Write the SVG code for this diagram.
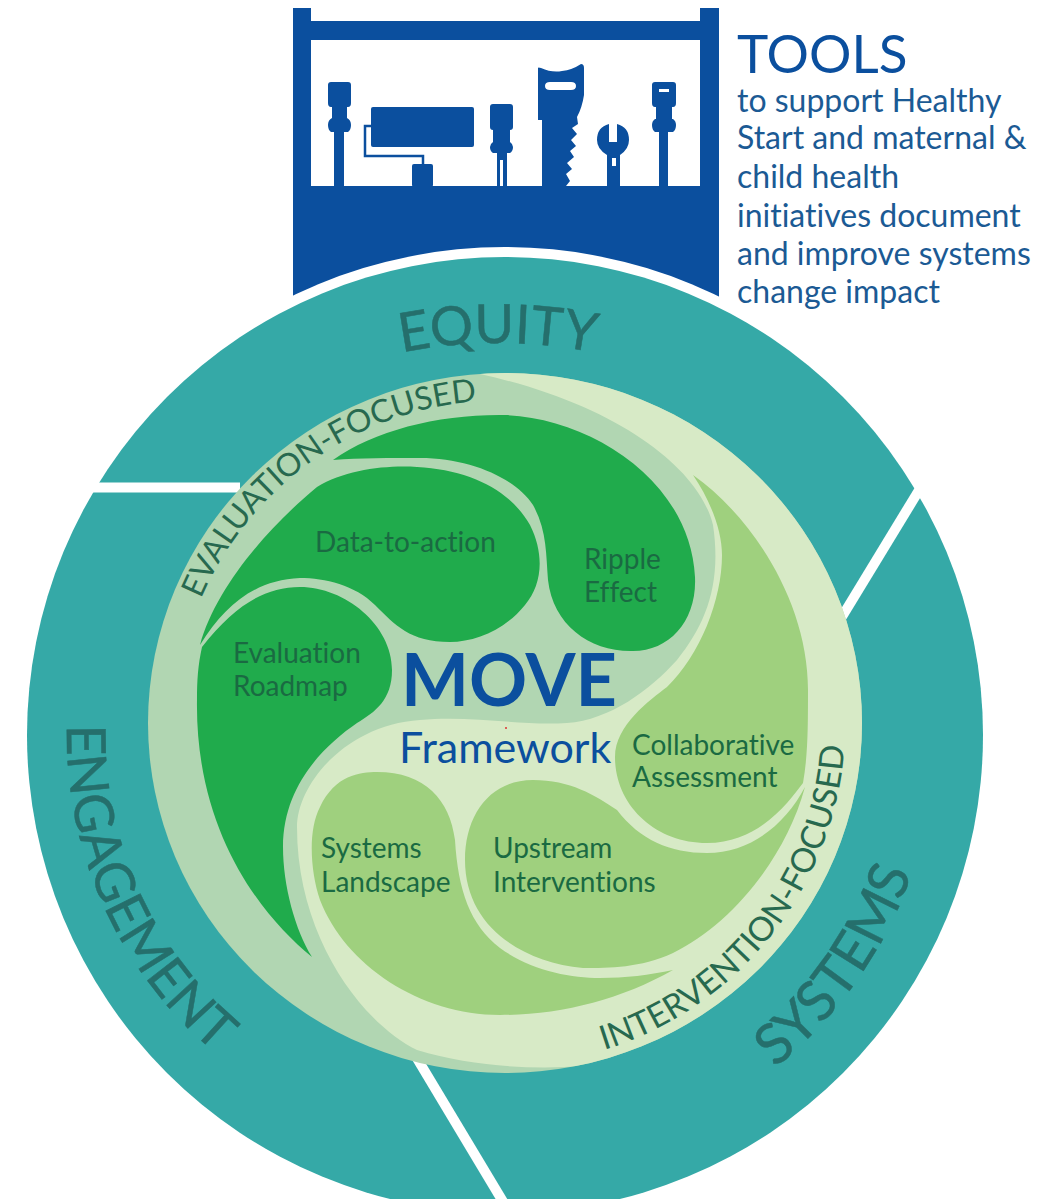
<svg xmlns="http://www.w3.org/2000/svg" width="1061" height="1199" viewBox="0 0 1061 1199">
<style>
text{font-family:"Lato","Open Sans","Liberation Sans",sans-serif;font-variant-ligatures:none}
.b{fill:#0b4f9e}
.w{fill:#fff}
.lab{font-size:28px;fill:#1a6a42}
.tool{font-size:32px;fill:#1b5a94}
.ring{font-size:54px;fill:#256f6c;stroke:#256f6c;stroke-width:.5}
.band{font-size:32px;fill:#27694f}
.cut{stroke:#fff;stroke-width:10;fill:none}
.dg{fill:#20ab4c}
.lg{fill:#9fd07e}
</style>
<defs>
<path id="pEq" d="M198,443 A500,500 0 0 1 798,443"/>
<path id="pEn" d="M67,725 A415,415 0 0 0 482,1150"/>
<path id="pSy" d="M775,1068 A430,430 0 0 0 935,735"/>
<path id="pEv" d="M201,599 A328,326 0 0 1 831,723"/>
<path id="pIn" d="M604,1050 A343,343 0 0 0 825,606"/>
<clipPath id="discClip"><ellipse cx="505" cy="723" rx="357" ry="350"/></clipPath>
</defs>
<rect width="1061" height="1199" fill="#fff"/>
<g id="toolbox">
<path class="b" d="M293,8 H311 V21 H700 V8 H719 V300 H293 Z"/>
<rect class="w" x="311" y="40" width="389" height="146"/>
<g id="tool-1"><path class="b" d="M334,186 V132 H331 Q328,130 328,125 Q328,120 332,118 V107 H331 Q328,107 328,103 V85 Q328,82 331,82 H348 Q351,82 351,85 V103 Q351,107 348,107 H347 V118 Q351,120 351,125 Q351,130 348,132 H344 V186 Z"/></g>
<g id="tool-roller">
<rect class="b" x="371" y="107" width="103" height="40" rx="2"/>
<path d="M371,126 H365 V156 H423 V165" fill="none" stroke="#0b4f9e" stroke-width="2.500"/>
<rect class="b" x="412" y="164" width="21" height="23" rx="2"/>
</g>
<g id="tool-2"><path class="b" d="M497,186 V153 H493 Q490,151 490,147 Q490,144 493,142 V130 H493 Q490,130 490,127 V107 Q490,104 493,104 H510 Q513,104 513,107 V127 Q513,130 510,130 H510 V142 Q513,144 513,147 Q513,151 510,153 H507 V186 H503 V160 H500 V186 Z"/></g>
<g id="tool-saw"><path class="b" d="M538,68 Q538,67 541,68 Q552,73 562,71 Q572,70 581,64 Q584,64 584,68 V95 Q582,108 577,117 L578,124 L572,128 L577,134 L571,140 L576,146 L570,151 L574,157 L567,163 L572,169 L566,174 L570,181 L566,186 H542 V120 H538 Z M550,82 Q545,82 545,86 Q545,90 550,90 H571 Q576,90 576,86 Q576,82 571,82 Z" fill-rule="evenodd"/></g>
<g id="tool-wrench"><path class="b" d="M607,186 V155 Q597,149 597,140 Q597,127 609,124 V142 H617 V124 Q629,127 629,140 Q629,149 620,155 V186 Z M612,158 V166 H616 V158 Z" fill-rule="evenodd"/></g>
<g id="tool-3"><path class="b" d="M659,186 V132 H655 Q652,130 652,125 Q652,121 655,119 H656 V107 H655 Q652,107 652,103 V85 Q652,82 655,82 H673 Q676,82 676,85 V103 Q676,107 673,107 H672 V119 H673 Q676,121 676,125 Q676,130 673,132 H668 V186 Z M659,89 V92 H669 V89 Z" fill-rule="evenodd"/></g>
</g>
<circle class="w" cx="505" cy="735" r="488"/>
<g id="tools-text">
<text x="737" y="73" font-size="53" class="b">TOOLS</text>
<text class="tool" x="737" y="112">to support Healthy</text>
<text class="tool" x="737" y="149">Start and maternal &amp;</text>
<text class="tool" x="737" y="188">child health</text>
<text class="tool" x="737" y="227">initiatives document</text>
<text class="tool" x="737" y="265">and improve systems</text>
<text class="tool" x="737" y="303">change impact</text>
</g>
<g id="outer-ring">
<circle cx="505" cy="735" r="478" fill="#35a9a7"/>
<line class="cut" x1="80" y1="487.500" x2="240" y2="487.500"/>
<line class="cut" x1="840" y1="620" x2="924" y2="482"/>
<line class="cut" stroke-width="12" x1="412" y1="1050" x2="505" y2="1205"/>
<text class="ring"><textPath href="#pEq" startOffset="50%" text-anchor="middle">EQUITY</textPath></text>
<text class="ring"><textPath href="#pEn">ENGAGEMENT</textPath></text>
<text class="ring" font-size="56" style="font-size:56px"><textPath href="#pSy">SYSTEMS</textPath></text>
</g>
<g id="disc">
<ellipse cx="505" cy="723" rx="357" ry="350" fill="#b1d6b2"/>
<path clip-path="url(#discClip)" fill="#d7eac6" d="M480,340 H900 V1100 H590 L583,1066 C530,1070 470,1066 417,1050 C365,1025 297,940 297,827 C297,785 345,725 420,720 C470,715 520,726 567,723 C610,720 650,690 677,660 C705,625 722,585 713,525 C700,470 620,405 480,374 Z"/>
<text class="band"><textPath href="#pEv">EVALUATION-FOCUSED</textPath></text>
<text class="band" style="font-size:33.500px"><textPath href="#pIn">INTERVENTION-FOCUSED</textPath></text>
</g>
<g id="ripple-effect">
<path class="dg" d="M333,460 C375,430 440,414 505,415 C590,418 690,480 695,577 C697,620 670,651 633,651 C590,652 553,625 548,580 C546,555 547,530 533,505 C515,478 470,458 420,458 C390,458 360,458 333,460 Z"/>
<text class="lab" x="584" y="569">Ripple</text>
<text class="lab" x="584" y="602">Effect</text>
</g>
<g id="data-to-action">
<path class="dg" d="M200,645 C215,590 265,530 317,487 C345,470 385,465 417,467 C470,470 510,490 530,525 C545,555 542,585 525,605 C505,630 475,642 450,642 C410,642 395,625 375,605 C355,585 325,578 300,578 C255,580 225,605 200,645 Z"/>
<text class="lab" x="315" y="552">Data-to-action</text>
</g>
<g id="evaluation-roadmap">
<path class="dg" d="M202,647 C235,605 265,587 300,587 C345,587 392,625 392,670 C392,700 375,712 357,723 C325,745 283,785 283,847 C283,885 295,930 312,957 C260,915 195,830 197,700 C197,680 198,665 202,647 Z"/>
<text class="lab" x="233" y="663">Evaluation</text>
<text class="lab" x="233" y="696">Roadmap</text>
</g>
<g id="collaborative-assessment">
<path class="lg" d="M693,475 C750,515 808,600 808,690 C808,725 808,755 803,783 C790,800 760,843 707,843 C655,843 615,805 615,757 C615,725 650,700 667,687 C700,655 722,600 722,555 C722,530 710,500 693,475 Z"/>
<text class="lab" x="632" y="755">Collaborative</text>
<text class="lab" x="632" y="787">Assessment</text>
</g>
<g id="upstream-interventions">
<path class="lg" d="M805,787 C785,860 730,925 673,953 C640,968 610,968 583,968 C520,962 465,925 465,860 C465,815 490,780 533,780 C570,780 595,795 617,810 C640,840 670,853 707,853 C750,853 785,825 805,787 Z"/>
<text class="lab" x="493" y="858">Upstream</text>
<text class="lab" x="493" y="892">Interventions</text>
</g>
<g id="systems-landscape">
<path class="lg" d="M673,970 C620,1000 560,1015 500,1015 C420,1015 345,965 320,900 C310,870 308,830 320,807 C335,775 360,772 377,772 C425,772 450,800 455,840 C458,890 470,925 500,948 C530,970 570,978 600,978 C625,978 650,975 673,970 Z"/>
<text class="lab" x="321" y="858">Systems</text>
<text class="lab" x="321" y="892">Landscape</text>
</g>
<g id="center-title">
<text x="401" y="706" font-size="72" font-weight="700" class="b">MOVE</text>
<text x="399" y="763" font-size="43" class="b">Framework</text>
<circle cx="506" cy="728" r="1" fill="#d33"/>
</g>
</svg>
